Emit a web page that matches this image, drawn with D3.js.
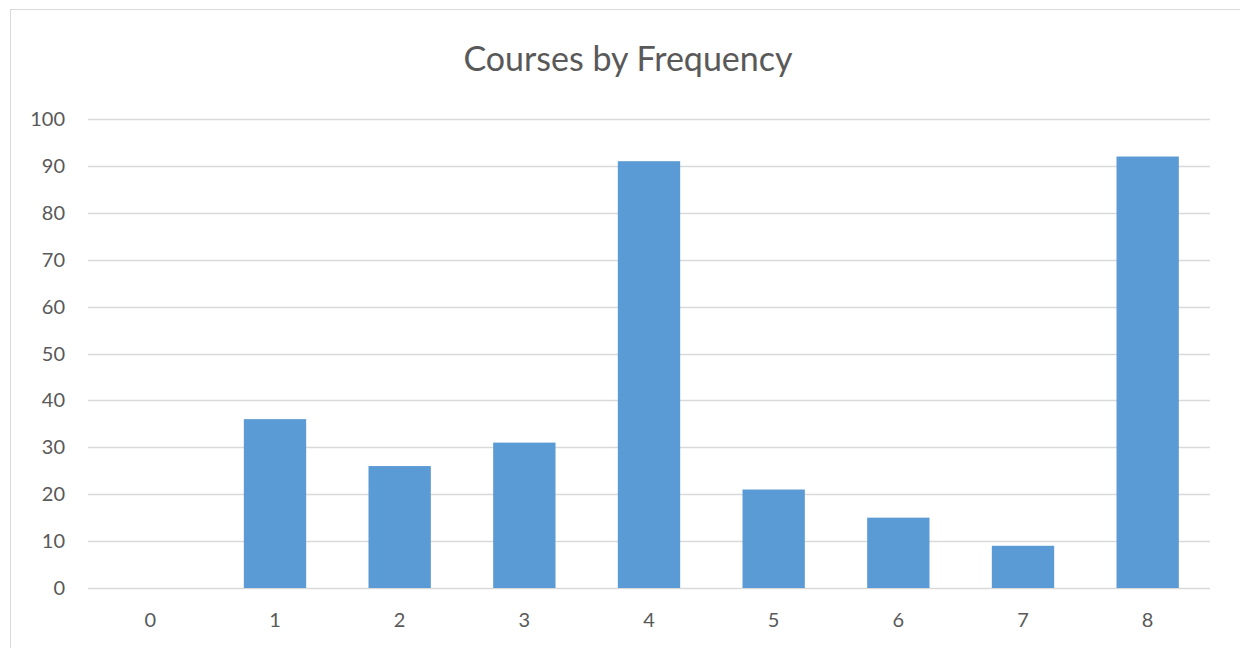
<!DOCTYPE html>
<html><head><meta charset="utf-8">
<script src="https://cdn.jsdelivr.net/npm/d3@7"></script>
<style>body{margin:0;background:#fff}svg{display:block}</style>
</head><body><svg id="c" width="1240" height="648"></svg>
<script>
const categories = ["0","1","2","3","4","5","6","7","8"];
const values = [0, 36, 26, 31, 91, 21, 15, 9, 92];
const yTicks = [0,10,20,30,40,50,60,70,80,90,100];
const title = "Courses by Frequency";

(function(){
const svg = d3.select("#c");
const font = "Lato, 'Open Sans', sans-serif";
svg.append("rect").attr("x",10.5).attr("y",9.5).attr("width",1240).attr("height",660)
  .attr("fill","none").attr("stroke","#d9d9d9").attr("stroke-width",1);

const pL = 88, pR = 1210, pT = 119, pB = 588;
const x = d3.scaleBand().domain(categories).range([pL,pR]).paddingInner(0.5).paddingOuter(0.25);
const y = d3.scaleLinear().domain([0,100]).range([pB, pT]);

svg.append("g").selectAll("line").data(yTicks).join("line")
  .attr("x1",pL).attr("x2",pR)
  .attr("y1",d=>Math.round(y(d))+0.5).attr("y2",d=>Math.round(y(d))+0.5)
  .attr("stroke","#d9d9d9").attr("stroke-width",1.5);

svg.append("g").selectAll("rect").data(values).join("rect")
  .attr("x",(d,i)=>x(categories[i])).attr("width",x.bandwidth())
  .attr("y",d=>y(d)).attr("height",d=>pB-y(d))
  .attr("fill","#5b9bd5");

svg.append("g").selectAll("text").data(yTicks).join("text")
  .attr("x",65).attr("y",d=>y(d)).attr("dy","0.35em").attr("text-anchor","end")
  .attr("font-family",font).attr("font-size",20).attr("fill","#595959").text(d=>d);

svg.append("g").selectAll("text").data(categories).join("text")
  .attr("x",d=>x(d)+x.bandwidth()/2).attr("y",620).attr("dy","0.35em").attr("text-anchor","middle")
  .attr("font-family",font).attr("font-size",20).attr("fill","#595959").text(d=>d);

svg.append("text").attr("x",628).attr("y",59).attr("dy","0.35em").attr("text-anchor","middle")
  .attr("font-family",font).attr("font-size",34).attr("fill","#595959").text(title);
})();
</script></body></html>
